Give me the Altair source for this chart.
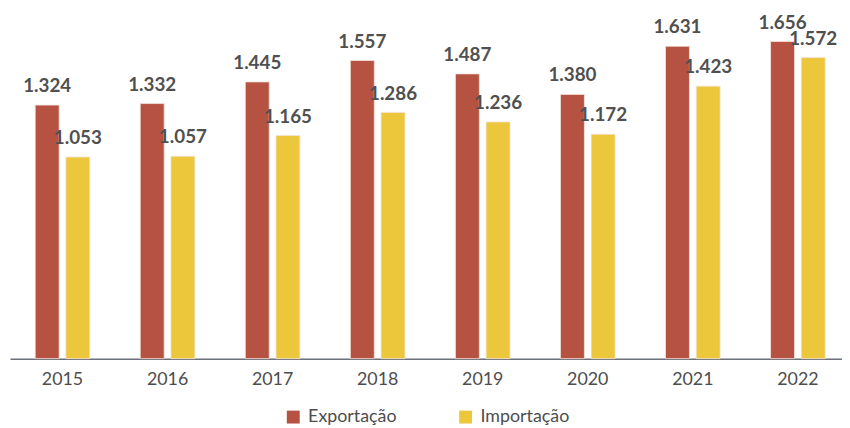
import altair as alt
import pandas as pd

years = ["2015", "2016", "2017", "2018", "2019", "2020", "2021", "2022"]
exportacao = [1.324, 1.332, 1.445, 1.557, 1.487, 1.380, 1.631, 1.656]
importacao = [1.053, 1.057, 1.165, 1.286, 1.236, 1.172, 1.423, 1.572]
series = ["Exportação", "Importação"]
colors = ["#B55241", "#ECC63B"]

rows = []
for i, yr in enumerate(years):
    rows.append({"ano": yr, "serie": series[0], "valor": exportacao[i]})
    rows.append({"ano": yr, "serie": series[1], "valor": importacao[i]})
df = pd.DataFrame(rows)
df["rotulo"] = df["valor"].map(lambda v: f"{v:.3f}")

x = alt.X(
    "ano:N",
    sort=years,
    scale=alt.Scale(paddingInner=0.48, paddingOuter=0.2, align=0.6, round=False),
    axis=alt.Axis(
        title=None, labelAngle=0, ticks=False, labelFontSize=18,
        labelColor="#4d4d4d", labelPadding=12, domainColor="#6b7079",
        domainWidth=1.5, labelFont="Lato", grid=False,
    ),
)
xo = alt.XOffset("serie:N", sort=series, scale=alt.Scale(paddingInner=0.22, round=False))
y = alt.Y("valor:Q", scale=alt.Scale(domain=[0, 1.8]), axis=None)

bars = alt.Chart(df).mark_bar(stroke="#f3e3dc", strokeWidth=0.8).encode(
    x=x,
    xOffset=xo,
    y=y,
    color=alt.Color(
        "serie:N",
        sort=series,
        scale=alt.Scale(domain=series, range=colors),
        legend=alt.Legend(
            title=None, orient="none", direction="horizontal",
            legendX=277, legendY=398, symbolType="square", symbolSize=170,
            symbolStrokeWidth=0, labelFontSize=18, labelFont="Lato",
            labelColor="#4d4d4d", columnPadding=60, labelOffset=6,
        ),
    ),
)

labels = alt.Chart(df).mark_text(
    dy=-13, baseline="alphabetic", fontSize=19, fontWeight="bold",
    color="#505050", font="Lato",
).encode(x=x, xOffset=xo, y=y, text="rotulo:N")

chart = (
    alt.layer(bars, labels)
    .properties(
        width=840, height=348,
        autosize=alt.AutoSizeParams(type="none"),
        padding={"left": 2, "top": 4, "right": 0, "bottom": 66},
    )
    .configure_view(stroke=None)
)

chart.save("out.html", embed_options={"renderer": "svg", "actions": False})
